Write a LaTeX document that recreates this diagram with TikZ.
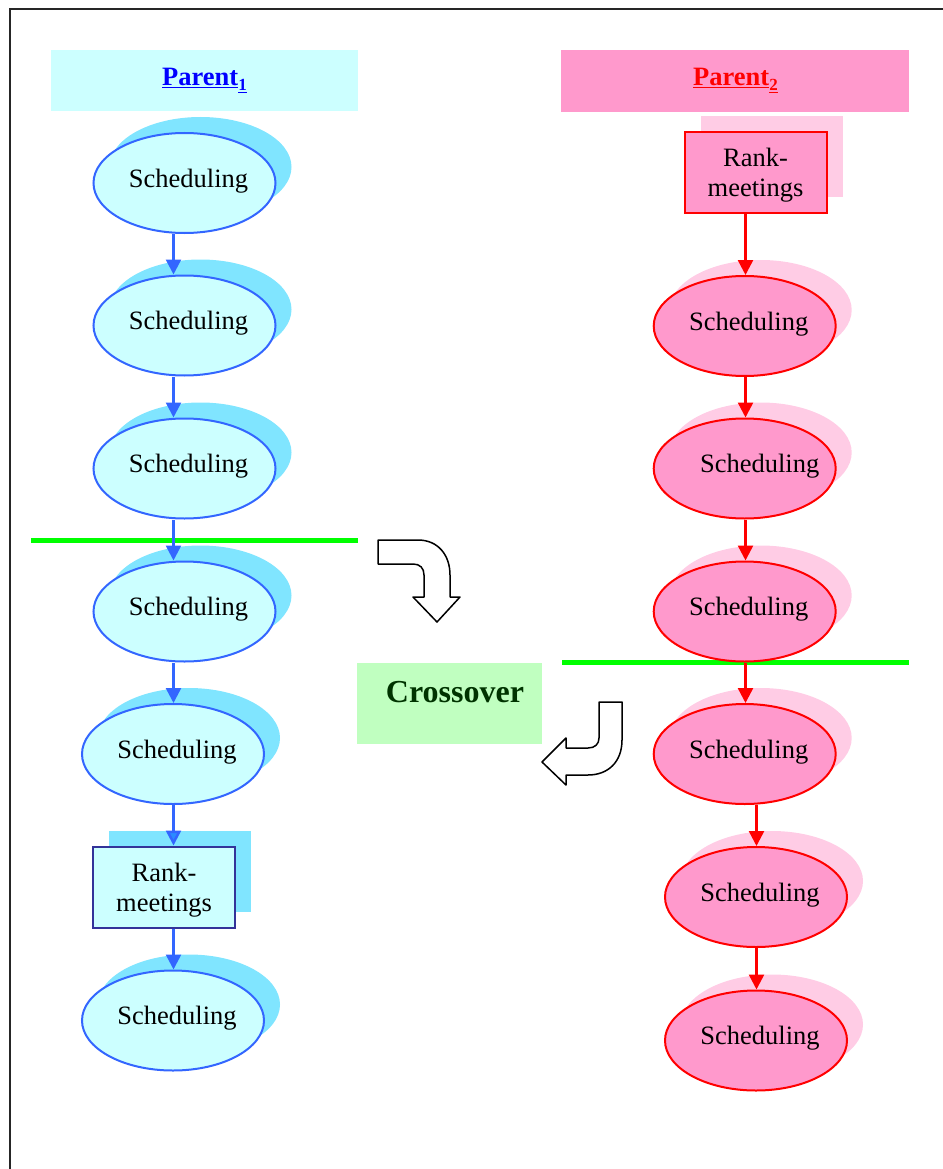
\documentclass[tikz,border=0pt]{standalone}
\usepackage{fontspec}
\setmainfont{Liberation Serif}
\usetikzlibrary{shapes.geometric,arrows.meta,shadows}
\definecolor{cyfill}{HTML}{CCFFFF}
\definecolor{cyshadow}{HTML}{80E5FF}
\definecolor{bline}{HTML}{3366FF}
\definecolor{rankblue}{HTML}{333399}
\definecolor{pkfill}{HTML}{FF99CC}
\definecolor{pkshadow}{HTML}{FFCCE5}
\definecolor{gline}{HTML}{00FF00}
\definecolor{crfill}{HTML}{C0FFC0}
\definecolor{crtext}{HTML}{003300}
\definecolor{tipblue}{HTML}{2A8CFF}
\newcommand\schedfont{\fontsize{26.5}{30}\selectfont}
\begin{document}
\begin{tikzpicture}[x=1pt,y=-1pt,
  ell/.style={ellipse, line width=2pt, minimum width=182pt, minimum height=100pt, inner sep=0pt},
  lell/.style={ell, draw=bline, fill=cyfill,
    general shadow={shadow xshift=16pt, shadow yshift=16pt, fill=cyshadow}},
  rell/.style={ell, draw=red, fill=pkfill,
    general shadow={shadow xshift=16pt, shadow yshift=16pt, fill=pkshadow}},
  sched/.style={label={[anchor=base, xshift=#1, yshift=2pt, inner sep=0pt, font=\schedfont]center:Scheduling}},
  sched/.default=4pt,
  rank/.style={rectangle, line width=2pt, minimum width=142pt, minimum height=81pt, inner sep=0pt,
    label={[align=center, font=\schedfont, yshift=-3pt, inner sep=0pt]center:Rank-\\meetings}},
  lrank/.style={rank, draw=rankblue, fill=cyfill,
    general shadow={shadow xshift=16pt, shadow yshift=16pt, fill=cyshadow}},
  rrank/.style={rank, draw=red, fill=pkfill,
    general shadow={shadow xshift=16pt, shadow yshift=16pt, fill=pkshadow}},
  pbox/.style={rectangle, draw=none, inner sep=0pt},
  larr/.style={draw=bline, line width=2.5pt, -{Triangle[width=15pt,length=15pt]}},
  rarr/.style={draw=red, line width=2.5pt, -{Triangle[width=15pt,length=15pt]}},
  sep/.style={draw=gline, line width=5pt},
  barrow/.style={draw=black, line width=1.5pt, fill=white, line join=round},
]
\useasboundingbox (0,0) rectangle (942,1169);
% frame
\draw[line width=2pt, black!85] (10,1175) -- (10,9) -- (948,9);

% header boxes
\node[pbox, fill=cyfill, minimum width=307pt, minimum height=61pt] (p1) at (204.5,80.5) {};
\node[anchor=base, inner sep=0pt, text=blue, font=\fontsize{26.5}{30}\selectfont\bfseries] (p1t) at (204.5,86)
  {\underline{Parent}\raisebox{-5pt}{\underline{\fontsize{17}{17}\selectfont 1}}};
\node[pbox, fill=pkfill, minimum width=348pt, minimum height=62pt] (p2) at (735,81) {};
\node[anchor=base, inner sep=0pt, text=red, font=\fontsize{26.5}{30}\selectfont\bfseries] (p2t) at (735.5,86)
  {\underline{Parent}\raisebox{-5pt}{\underline{\fontsize{17}{17}\selectfont 2}}};

% crossover
\node[pbox, fill=crfill, minimum width=185pt, minimum height=81pt] (cr) at (449.5,703.5) {};
\node[anchor=base, inner sep=0pt, text=crtext, font=\fontsize{32}{36}\selectfont\bfseries] (crt) at (455,702) {Crossover};

% green separators
\draw[sep] (31,540) -- (358,540);
\draw[sep] (562,662.5) -- (909,662.5);

% left column
\node[lell, sched] (L1) at (184.5,183) {};
\node[lell, sched] (L2) at (184.5,325.5) {};
\node[lell, sched] (L3) at (184.5,468.5) {};
\node[lell, sched] (L4) at (184.5,611.5) {};
\node[lell, sched] (L5) at (173,754) {};
\node[lrank] (L6) at (164,887) {};
\node[lell, sched] (L7) at (173,1020.5) {};

% right column
\node[rrank] (R0) at (755.5,172.5) {};
\node[rell, sched] (R1) at (744.7,326) {};
\node[rell, sched=15pt] (R2) at (744.7,468.5) {};
\node[rell, sched] (R3) at (744.7,611.5) {};
\node[rell, sched] (R4) at (744.7,754) {};
\node[rell, sched] (R5) at (756,897) {};
\node[rell, sched] (R6) at (756,1040.5) {};

% connectors
\coordinate (lx) at (173.5,0);
\coordinate (rx) at (745.5,0);
\coordinate (rx2) at (756.5,0);
\draw[larr] (L1.south -| lx) -- (L2.north -| lx);
\draw[larr] (L2.south -| lx) -- (L3.north -| lx);
\draw[larr] (L3.south -| lx) -- (L4.north -| lx);
\draw[larr] (L4.south -| lx) -- (L5.north -| lx);
\draw[larr, -{Triangle[width=15pt,length=15pt,fill=tipblue]}] (L5.south -| lx) -- (L6.north -| lx);
\draw[larr] (L6.south -| lx) -- (L7.north -| lx);

\draw[rarr] (R0.south -| rx) -- (R1.north -| rx);
\draw[rarr] (R1.south -| rx) -- (R2.north -| rx);
\draw[rarr] (R2.south -| rx) -- (R3.north -| rx);
\draw[rarr] (R3.south -| rx) -- (R4.north -| rx);
\draw[rarr] (R4.south -| rx2) -- (R5.north -| rx2);
\draw[rarr] (R5.south -| rx2) -- (R6.north -| rx2);

% curved block arrows
\draw[barrow] (378,540) -- (418,540) .. controls (438,540) and (450,555) .. (450,575)
  -- (450,597) -- (460,597) -- (437,622) -- (413,597) -- (424,597) -- (424,575)
  .. controls (424,568) and (420,564) .. (413,564) -- (378,564) -- cycle;
\draw[barrow] (599,702) -- (622,702) -- (622,740) .. controls (622,762) and (608,775) .. (588,775)
  -- (566,775) -- (566,785) -- (542,762) -- (566,738) -- (566,748) -- (588,748)
  .. controls (595,748) and (599,744) .. (599,738) -- cycle;
\end{tikzpicture}
\end{document}
